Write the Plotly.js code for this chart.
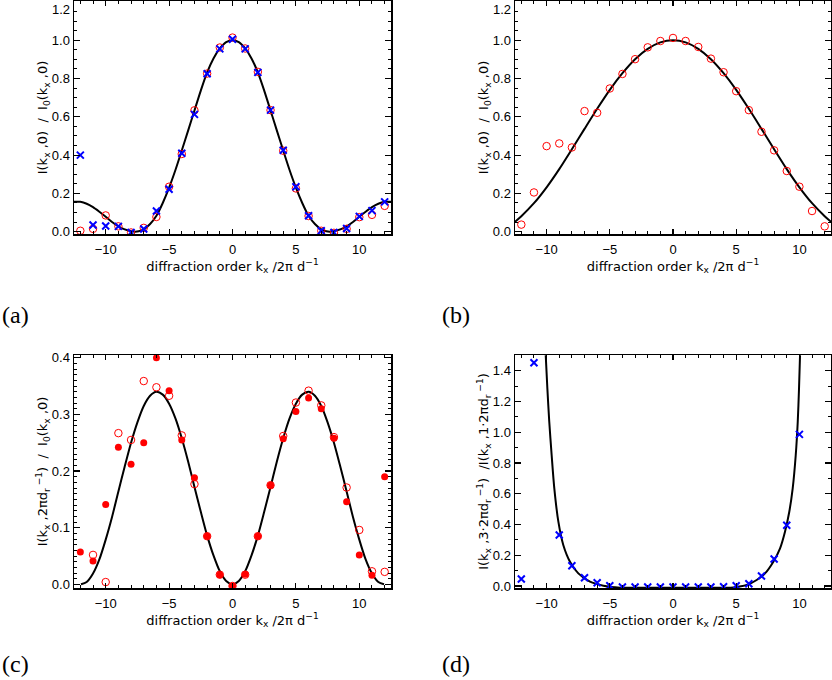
<!DOCTYPE html>
<html>
<head>
<meta charset="utf-8">
<script src="https://cdn.plot.ly/plotly-3.0.1.min.js"></script>
<style>
html,body{margin:0;padding:0;background:#fff;}
#chart{width:832px;height:680px;}
</style>
</head>
<body>
<div id="chart"></div>
<script>
// ---------- data ----------
const kOrders = [-12,-11,-10,-9,-8,-7,-6,-5,-4,-3,-2,-1,0,1,2,3,4,5,6,7,8,9,10,11,12];

// panel (a)
const aCircles = [0.005,0.015,0.085,0.028,-0.004,0.02,0.077,0.235,0.406,0.634,0.826,0.962,1.014,0.957,0.835,0.635,0.423,0.226,0.082,0.005,-0.006,0.015,0.076,0.088,0.135];
const aCrosses = [0.40,0.035,0.03,0.028,-0.004,0.014,0.108,0.222,0.41,0.613,0.825,0.955,1.005,0.955,0.832,0.635,0.425,0.235,0.083,0.005,-0.004,0.017,0.08,0.11,0.156];
const aCurveX = [-12.5,-12,-11.5,-11,-10.5,-10,-9.5,-9,-8.5,-8,-7.7,-7.4,-7,-6.5,-6,-5.5,-5,-4.5,-4,-3.5,-3,-2.5,-2,-1.5,-1,-0.5,0,0.5,1,1.5,2,2.5,3,3.5,4,4.5,5,5.5,6,6.5,7,7.4,7.7,8,8.5,9,9.5,10,10.5,11,11.5,12,12.5];
const aCurveY = [0.157,0.156,0.146,0.128,0.104,0.078,0.051,0.028,0.012,0.003,0.0,0.002,0.012,0.04,0.083,0.15,0.23,0.322,0.424,0.528,0.633,0.737,0.832,0.905,0.957,0.99,1.0,0.99,0.957,0.905,0.832,0.737,0.633,0.528,0.424,0.322,0.23,0.15,0.083,0.04,0.012,0.002,0.0,0.003,0.012,0.028,0.051,0.078,0.104,0.128,0.146,0.156,0.157];

// panel (b)
const bCircles = [0.037,0.205,0.447,0.461,0.44,0.63,0.621,0.748,0.824,0.901,0.963,0.996,1.012,0.996,0.965,0.904,0.833,0.734,0.635,0.522,0.425,0.317,0.235,0.108,0.028];
const bCurveX = [-12.5,-12,-11,-10,-9,-8,-7,-6,-5,-4,-3,-2,-1,0,1,2,3,4,5,6,7,8,9,10,11,12,12.5];
const bCurveY = [0.052,0.081,0.149,0.232,0.327,0.431,0.537,0.642,0.741,0.828,0.901,0.955,0.989,1.0,0.989,0.955,0.901,0.828,0.741,0.642,0.537,0.431,0.327,0.232,0.149,0.081,0.052];

// panel (c)
const cFilled = [0.057,0.041,0.141,0.242,0.212,0.25,0.40,0.342,0.255,0.188,0.085,0.017,-0.003,0.018,0.085,0.175,0.257,0.305,0.329,0.31,0.258,0.146,0.052,0.016,0.19];
const cOpen   = [null,0.052,0.004,0.267,0.255,0.359,0.348,0.333,0.263,0.177,0.085,0.017,-0.003,0.017,0.085,0.175,0.262,0.321,0.342,0.316,0.26,0.171,0.096,0.023,0.022];
const cCurveX = [-11.95,-11.5,-11,-10.5,-10,-9.5,-9,-8.5,-8,-7.5,-7,-6.5,-6,-5.5,-5,-4.5,-4,-3.5,-3,-2.5,-2,-1.5,-1,-0.5,0,0.5,1,1.5,2,2.5,3,3.5,4,4.5,5,5.5,6,6.5,7,7.5,8,8.5,9,9.5,10,10.5,11,11.5,11.95];
const cCurveY = [0.0,0.004,0.019,0.044,0.079,0.119,0.164,0.208,0.25,0.286,0.315,0.333,0.34,0.335,0.319,0.293,0.258,0.217,0.172,0.128,0.086,0.051,0.023,0.006,0.0,0.006,0.023,0.051,0.086,0.128,0.172,0.217,0.258,0.293,0.319,0.335,0.34,0.333,0.315,0.286,0.25,0.208,0.164,0.119,0.079,0.044,0.019,0.004,0.0];

// panel (d)
const dCrosses = [0.046,1.452,null,0.332,0.132,0.054,0.0215,0.002,-0.007,-0.007,-0.007,-0.007,-0.006,-0.006,-0.006,-0.007,-0.005,0.002,0.015,0.065,0.176,0.395,0.986,null,null];
const dCurveX = [-10.07,-9.94,-9.79,-9.6,-9.39,-9.07,-8.68,-8.15,-7.49,-6.57,-5.51,-4.19,-3,-2,-1,0,1,2,3,4.0,4.77,5.83,6.62,7.28,7.94,8.47,8.86,9.2,9.47,9.71,9.87,9.97,10.05];
const dCurveY = [1.50,1.285,1.07,0.85,0.635,0.418,0.267,0.158,0.082,0.028,0.002,-0.011,-0.012,-0.012,-0.012,-0.012,-0.012,-0.012,-0.012,-0.011,-0.009,0.0065,0.039,0.082,0.158,0.245,0.353,0.483,0.635,0.85,1.07,1.285,1.50];

const xTickVals = [-10,-5,0,5,10];
const topTickLabel = '1.2';
const xTitle = 'diffraction order k<sub>x</sub> /2\u03c0 d<sup>\u22121</sup>';
const yTitleA = 'I(k<sub>x</sub> ,0)\u00a0\u00a0/\u00a0\u00a0I<sub>0</sub>(k<sub>x</sub> ,0)';
const yTitleC = 'I(k<sub>x</sub> ,2\u03c0d<sub>r</sub><sup>\u00a0\u22121</sup>)\u00a0\u00a0/\u00a0\u00a0I<sub>0</sub>(k<sub>x</sub> ,0)';
const yTitleD = 'I(k<sub>x</sub> ,3\u00b72\u03c0d<sub>r</sub><sup>\u00a0\u22121</sup>)\u00a0\u00a0/I(k<sub>x</sub> ,1\u00b72\u03c0d<sub>r</sub><sup>\u00a0\u22121</sup>)';
const panelLabels = ['(a)','(b)','(c)','(d)'];

// ---------- styles ----------
const RED = 'rgb(255,0,0)', BLUE = 'rgb(0,0,255)';
const W = 832, H = 680;
const colL = [74/W, 391/W], colR = [515/W, 831/W];
const rowT = [1-234/H, 1-1/H], rowB = [1-588/H, 1-355/H];
const tickFont = {family: 'Liberation Sans, Arial, sans-serif', size: 13, color: '#000'};
const titleFont = {family: 'DejaVu Sans, sans-serif', size: 13, color: '#000'};

function xax(dom, anchor){
  return {domain: dom, anchor: anchor, range: [-12.5, 12.5],
    tickvals: xTickVals, ticks: 'inside', ticklen: 5, tickwidth: 1.2, tickcolor: '#000',
    minor: {dtick: 1, tick0: 0, ticks: 'inside', ticklen: 3, tickwidth: 1, tickcolor: '#000'},
    showline: true, linecolor: '#000', linewidth: 1.5, mirror: 'ticks',
    showgrid: false, zeroline: false, ticklabelstandoff: 3,
    tickfont: tickFont,
    title: {text: xTitle, standoff: 2, font: titleFont}};
}
function yax(dom, anchor, range, dtick, mdtick, title){
  return {domain: dom, anchor: anchor, range: range, dtick: dtick, tick0: 0, tickformat: '.1f',
    ticks: 'inside', ticklen: 6, tickwidth: 1.2, tickcolor: '#000',
    minor: {dtick: mdtick, tick0: 0, ticks: 'inside', ticklen: 3, tickwidth: 1, tickcolor: '#000'},
    showline: true, linecolor: '#000', linewidth: 1.5, mirror: 'ticks',
    showgrid: false, zeroline: false,
    tickfont: tickFont,
    title: {text: title, standoff: 0, font: titleFont}};
}

const curveLine = {color: '#000', width: 2, shape: 'spline', smoothing: 0.8};
const openCirc = {symbol: 'circle-open', size: 7.5, color: RED, line: {color: RED, width: 1}};
const fillCirc = {symbol: 'circle', size: 7, color: RED, line: {width: 0}};
const cross = {symbol: 'x-thin-open', size: 7, color: BLUE, line: {color: BLUE, width: 2}};

const traces = [
  {x: aCurveX, y: aCurveY, mode: 'lines', line: curveLine, xaxis: 'x', yaxis: 'y'},
  {x: kOrders, y: aCircles, mode: 'markers', marker: openCirc, xaxis: 'x', yaxis: 'y'},
  {x: kOrders, y: aCrosses, mode: 'markers', marker: cross, xaxis: 'x', yaxis: 'y'},

  {x: bCurveX, y: bCurveY, mode: 'lines', line: curveLine, xaxis: 'x2', yaxis: 'y2'},
  {x: kOrders, y: bCircles, mode: 'markers', marker: openCirc, xaxis: 'x2', yaxis: 'y2'},

  {x: cCurveX, y: cCurveY, mode: 'lines', line: curveLine, xaxis: 'x3', yaxis: 'y3'},
  {x: kOrders, y: cOpen, mode: 'markers', marker: openCirc, xaxis: 'x3', yaxis: 'y3'},
  {x: kOrders, y: cFilled, mode: 'markers', marker: fillCirc, xaxis: 'x3', yaxis: 'y3'},

  {x: dCurveX, y: dCurveY, mode: 'lines', line: curveLine, xaxis: 'x4', yaxis: 'y4'},
  {x: kOrders, y: dCrosses, mode: 'markers', marker: cross, xaxis: 'x4', yaxis: 'y4'}
];

const labelPos = [[0, 1-315/H],[440/W, 1-315/H],[0, 1-664/H],[440/W, 1-664/H]];
const annotations = panelLabels.map((t,i) => ({
  text: t, xref: 'paper', yref: 'paper', x: labelPos[i][0], y: labelPos[i][1],
  xanchor: 'left', yanchor: 'middle', showarrow: false,
  font: {family: 'Liberation Serif, DejaVu Serif, serif', size: 24, color: '#000'}
}));
// top tick label of (a) and (b), which sits at the very top of the figure
[['x domain','y'],['x2 domain','y2']].forEach(r => annotations.push({
  text: topTickLabel, xref: r[0], yref: r[1], x: 0, y: 1.2,
  xanchor: 'right', yanchor: 'top', xshift: -3, yshift: 1, borderpad: 0, showarrow: false,
  font: tickFont
}));

const layout = {
  width: W, height: H, showlegend: false,
  margin: {l: 0, r: 0, t: 0, b: 0},
  paper_bgcolor: '#fff', plot_bgcolor: '#fff',
  xaxis: xax(colL, 'y'),
  yaxis: yax(rowT, 'x', [-0.012, 1.205], 0.2, 0.05, yTitleA),
  xaxis2: xax(colR, 'y2'),
  yaxis2: yax(rowT, 'x2', [-0.012, 1.205], 0.2, 0.05, yTitleA),
  xaxis3: xax(colL, 'y3'),
  yaxis3: yax(rowB, 'x3', [-0.0065, 0.405], 0.1, 0.01, yTitleC),
  xaxis4: xax(colR, 'y4'),
  yaxis4: yax(rowB, 'x4', [-0.013, 1.502], 0.2, 0.1, yTitleD),
  annotations: annotations
};

Plotly.newPlot('chart', traces, layout, {displayModeBar: false, staticPlot: true});
</script>
</body>
</html>
